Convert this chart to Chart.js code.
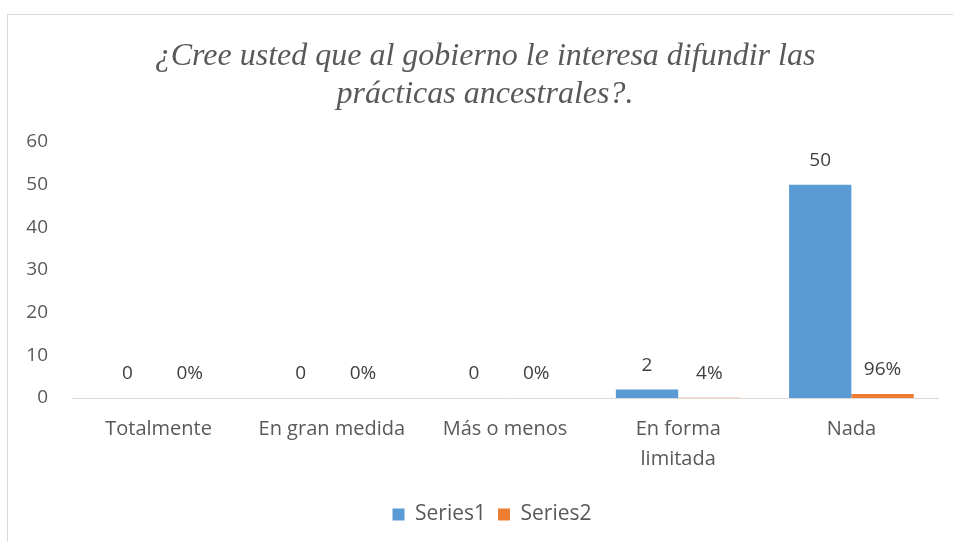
<!DOCTYPE html>
<html><head><meta charset="utf-8">
<script src="https://cdn.jsdelivr.net/npm/chart.js@4.4.0/dist/chart.umd.min.js"></script>
<style>html,body{margin:0;padding:0;background:#fff;}#wrap{width:953px;height:542px;position:relative;}</style>
</head><body><div id="wrap"><canvas id="c" width="953" height="542"></canvas></div>
<script>
const categories = ['Totalmente', 'En gran medida', 'Más o menos', ['En forma', 'limitada'], 'Nada'];
const series1 = [0, 0, 0, 2, 50];
const series2 = [0, 0, 0, 0.04, 0.96];
const seriesNames = ['Series1', 'Series2'];
const yMin = 0, yMax = 60, yStep = 10;
const titleLines = ['¿Cree usted que al gobierno le interesa difundir las', 'prácticas ancestrales?.'];

const TEXT = '#595959';
const FONT = "'Open Sans', 'Noto Sans', sans-serif";

const framePlugin = {
  id: 'frame',
  afterLayout(chart) {
    if (chart.legend) { chart.legend.left += 23; chart.legend.right += 23; }
  },
  beforeDraw(chart) {
    const ctx = chart.ctx;
    ctx.save();
    ctx.fillStyle = '#ffffff';
    ctx.fillRect(0, 0, chart.width, chart.height);
    ctx.strokeStyle = '#D9D9D9';
    ctx.lineWidth = 1;
    ctx.strokeRect(7.5, 14.5, 1000, 600);
    ctx.restore();
  },
  afterDraw(chart) {
    const ctx = chart.ctx;
    ctx.save();
    ctx.font = "italic 32px 'Liberation Serif', 'Times New Roman', serif";
    ctx.fillStyle = TEXT;
    ctx.textAlign = 'center';
    ctx.textBaseline = 'middle';
    titleLines.forEach((t, i) => ctx.fillText(t, 485, 57 + i * 38));
    ctx.restore();
  }
};

const labelPlugin = {
  id: 'valueLabels',
  afterDatasetsDraw(chart) {
    const ctx = chart.ctx;
    ctx.save();
    ctx.font = "19px " + FONT;
    ctx.fillStyle = '#404040';
    ctx.textAlign = 'center';
    ctx.textBaseline = 'middle';
    chart.data.datasets.forEach((ds, di) => {
      const meta = chart.getDatasetMeta(di);
      meta.data.forEach((el, i) => {
        const v = ds.data[i];
        const txt = di === 0 ? String(v) : Math.round(v * 100) + '%';
        ctx.fillText(txt, el.x, el.y - 24);
      });
    });
    ctx.restore();
  }
};

new Chart(document.getElementById('c'), {
  type: 'bar',
  data: {
    labels: categories,
    datasets: [
      { label: seriesNames[0], data: series1, backgroundColor: '#5B9BD5', borderColor: '#5B9BD5', borderWidth: 0, categoryPercentage: 0.72, barPercentage: 1.0 },
      { label: seriesNames[1], data: series2, backgroundColor: '#ED7D31', borderColor: '#ED7D31', borderWidth: 0, categoryPercentage: 0.72, barPercentage: 1.0 }
    ]
  },
  options: {
    responsive: false,
    animation: false,
    devicePixelRatio: 1,
    layout: { padding: { left: 0, right: 15, top: 142, bottom: 7 } },
    plugins: {
      tooltip: { enabled: false },
      title: { display: false },
      legend: {
        position: 'bottom',
        labels: {
          color: TEXT,
          font: { family: FONT, size: 21 },
          boxWidth: 12,
          boxHeight: 12,
          padding: 12
        }
      }
    },
    scales: {
      x: {
        grid: { display: false, drawTicks: false },
        border: { display: true, color: '#D9D9D9', width: 1 },
        ticks: { color: TEXT, font: { family: FONT, size: 20, lineHeight: 1.5 }, padding: 16, maxRotation: 0, autoSkip: false },
        afterFit(scale) { scale.height = 94; }
      },
      y: {
        min: yMin, max: yMax,
        grid: { display: false, drawTicks: false },
        border: { display: false },
        ticks: { stepSize: yStep, color: TEXT, font: { family: FONT, size: 19 }, padding: 24 },
        afterFit(scale) { scale.width = 72; }
      }
    }
  },
  plugins: [framePlugin, labelPlugin]
});
</script>
</body></html>
